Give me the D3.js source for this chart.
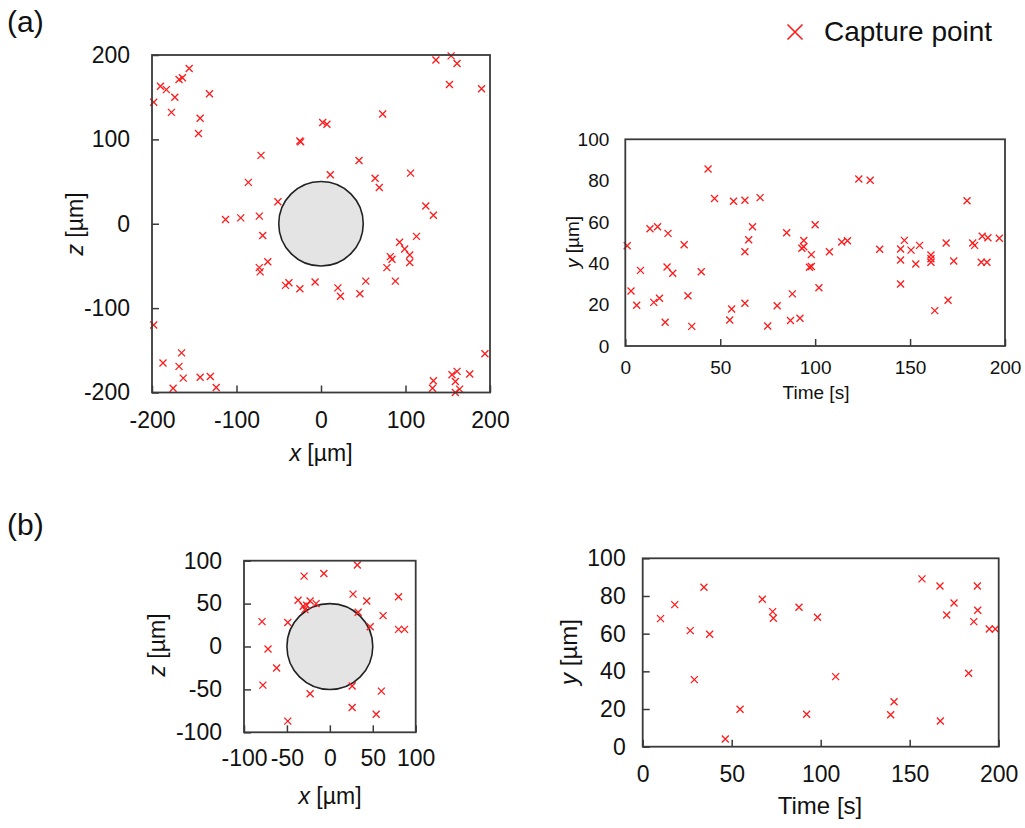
<!DOCTYPE html>
<html>
<head>
<meta charset="utf-8">
<script src="https://cdn.jsdelivr.net/npm/d3@7"></script>
<style>
  html, body { margin: 0; padding: 0; background: #fff; }
  svg { display: block; font-family: "Liberation Sans", Arial, sans-serif; }
</style>
</head>
<body>
<svg id="chart" width="1025" height="828"></svg>
<script>
// ---- Data: capture positions (x, z) in µm and capture times (t, y) ----
const captureA_xz = [
  [-156,184],[-190,163],[-183,159],[-168,171],[-164,173],[-173,150],[-198,144],[-132,154],
  [-177,132],[-143,125],[-145,107],[-25,98],[-24,97],[-71,81],[-86,49],[-51,26],[-113,5],
  [-95,7],[-73,9],[136,194],[154,199],[161,190],[152,165],[190,160],[73,130],[2,120],[7,118],
  [45,75],[11,58],[64,54],[69,43],[106,60],[124,21],[133,10],[-69,-14],[-63,-45],[-73,-52],
  [-72,-57],[-42,-73],[-38,-70],[-25,-77],[-7,-69],[-198,-120],[-165,-153],[-187,-165],
  [-168,-169],[-163,-183],[-143,-182],[-131,-181],[-175,-195],[-124,-194],[113,-15],[93,-22],
  [99,-30],[82,-39],[84,-42],[105,-37],[105,-46],[78,-52],[88,-68],[53,-68],[20,-76],[23,-86],
  [46,-83],[194,-154],[155,-179],[161,-175],[176,-178],[159,-187],[133,-186],[132,-195],
  [164,-196],[159,-200]
];
const captureA_ty = [
  [1,48.5],[3,26.6],[6,19.7],[8,36.6],[13,56.7],[17,57.7],[15,21.1],[18,23.1],[22.5,54.5],
  [22,38.2],[25,35.2],[21,11.5],[31,49],[33,24.3],[35,9.5],[40,35.9],[43.6,85.6],[47,71.4],
  [57,70],[63,70.5],[71,71.8],[67,57.7],[65,51.4],[63,45.6],[55,12.6],[56,17.9],[63,20.7],
  [75,9.7],[80,19.5],[85,54.8],[88,25.2],[87,12.3],[92,13.4],[94,51],[93,47.3],[94,48],
  [98,44.2],[97,38.1],[98,38.5],[100,58.7],[102,28.2],[107.5,45.6],[114,50.3],[117,50.9],
  [123,80.8],[129,80.2],[134,46.8],[145,30],[145,41.6],[145,46.9],[147,51.1],[150.5,46.4],
  [153,39.7],[155,48.7],[161,44],[161,42.2],[161,40.5],[163,17.1],[169,49.8],[170,22.1],
  [173,41.1],[180,70.3],[183,49.8],[184,48.7],[188,53.1],[191,52.4],[187.5,40.5],[190.5,40.5],
  [197,52.1]
];
const captureB_xz = [
  [32,95],[-30,82],[-7,85],[27,61],[43,53],[80,58],[-37,54],[-23,53],[-16,50],[-31,47],
  [-29,43],[-27,48],[33,40],[62,36],[-79,29],[-49,28],[47,23],[80,20],[87,20],[-72,-3],
  [-62,-25],[-78,-45],[-23,-55],[26,-46],[60,-52],[26,-71],[54,-79],[-49,-87]
];
const captureB_ty = [
  [10,68],[18,75.4],[34.4,84.6],[26.7,61.6],[37.6,59.7],[29,35.6],[46.4,4.1],[54.7,19.9],
  [67.2,78.3],[73,71.7],[73.4,68.2],[87.8,74],[92.1,17.2],[98.2,68.7],[108.4,37.2],
  [141.2,23.9],[139.3,17],[156.9,89.1],[167,85.3],[188,85.3],[174.9,76.3],[170.8,69.9],
  [188.2,72.4],[186,66.4],[194.7,62.5],[198.1,62.5],[183.1,39],[167.2,13.6]
];

// Particle (sphere cross-section) radius, µm
const sphereRadius = 50;

// Tick values
const ticksA_pos = [-200, -100, 0, 100, 200];
const ticksB_pos = [-100, -50, 0, 50, 100];
const ticksTime = [0, 50, 100, 150, 200];
const ticksY = [0, 20, 40, 60, 80, 100];

const legendLabel = "Capture point";

// ---- Drawing ----
const svg = d3.select("#chart");
const AXIS = "#3a3a3a";
const RED = "#ff1a1a";

function cross(g, x, y, h, w) {
  g.append("path")
    .attr("d", `M${x - h},${y - h}L${x + h},${y + h}M${x - h},${y + h}L${x + h},${y - h}`)
    .attr("stroke", RED).attr("stroke-width", w).attr("fill", "none");
}

function panel(cfg) {
  const g = svg.append("g");
  const xs = d3.scaleLinear().domain(cfg.xDomain).range(cfg.xRange);
  const ys = d3.scaleLinear().domain(cfg.yDomain).range(cfg.yRange);

  if (cfg.sphere) {
    g.append("circle")
      .attr("cx", xs(0)).attr("cy", ys(0))
      .attr("r", xs(sphereRadius) - xs(0))
      .attr("fill", "#e4e4e4").attr("stroke", "#222").attr("stroke-width", 1.6);
  }

  const pts = g.append("g");
  cfg.data.forEach(d => cross(pts, xs(d[0]), ys(d[1]), 3.5, 1.3));

  const fmt = d => String(d);
  const xAxis = d3.axisBottom(xs).tickValues(cfg.xTicks).tickFormat(fmt)
    .tickSizeInner(-7).tickSizeOuter(0).tickPadding(cfg.xPad);
  const yAxis = d3.axisLeft(ys).tickValues(cfg.yTicks).tickFormat(fmt)
    .tickSizeInner(cfg.yTickLen === 0 ? 0 : -7).tickSizeOuter(0).tickPadding(cfg.yPad);

  const gx = g.append("g").attr("transform", `translate(0,${cfg.yRange[0]})`).call(xAxis);
  const gy = g.append("g").attr("transform", `translate(${cfg.xRange[0]},0)`).call(yAxis);
  [gx, gy].forEach(a => {
    a.select(".domain").remove();
    a.selectAll(".tick line").attr("stroke", AXIS).attr("stroke-width", 1.5);
    a.selectAll(".tick text").attr("fill", "#111")
      .style("font-size", cfg.fontSize + "px").style("font-family", "Liberation Sans, Arial, sans-serif");
  });

  g.append("rect")
    .attr("x", cfg.xRange[0]).attr("y", cfg.yRange[1])
    .attr("width", cfg.xRange[1] - cfg.xRange[0]).attr("height", cfg.yRange[0] - cfg.yRange[1])
    .attr("fill", "none").attr("stroke", AXIS).attr("stroke-width", 1.8);

  // axis titles
  const xt = g.append("text").attr("x", cfg.xTitle.x).attr("y", cfg.xTitle.y)
    .attr("text-anchor", "middle").attr("fill", "#111").style("font-size", cfg.titleSize + "px");
  xt.append("tspan").attr("font-style", cfg.xTitle.italic ? "italic" : "normal").text(cfg.xTitle.sym);
  xt.append("tspan").text(cfg.xTitle.rest);

  const yt = g.append("text")
    .attr("transform", `translate(${cfg.yTitle.x},${cfg.yTitle.y}) rotate(-90)`)
    .attr("text-anchor", "middle").attr("fill", "#111").style("font-size", cfg.titleSize + "px");
  yt.append("tspan").attr("font-style", "italic").text(cfg.yTitle.sym);
  yt.append("tspan").text(cfg.yTitle.rest);
}

// (a) left: x–z plane
panel({
  data: captureA_xz, sphere: true,
  xDomain: [-200, 200], xRange: [152, 490],
  yDomain: [-200, 200], yRange: [392.5, 55],
  xTicks: ticksA_pos, yTicks: ticksA_pos,
  xPad: 19, yPad: 22, fontSize: 23, titleSize: 23,
  xTitle: { x: 321, y: 461, sym: "x", rest: " [µm]", italic: true },
  yTitle: { x: 83, y: 224, sym: "z", rest: " [µm]" }
});

// (a) right: y vs time
panel({
  data: captureA_ty, sphere: false,
  xDomain: [0, 200], xRange: [625.3, 1005],
  yDomain: [0, 100], yRange: [346, 139.3],
  xTicks: ticksTime, yTicks: ticksY, yTickLen: 0,
  xPad: 15, yPad: 16, fontSize: 19, titleSize: 19,
  xTitle: { x: 816, y: 399, sym: "", rest: "Time [s]", italic: false },
  yTitle: { x: 579, y: 242, sym: "y", rest: " [µm]" }
});

// (b) left: x–z plane
panel({
  data: captureB_xz, sphere: true,
  xDomain: [-100, 100], xRange: [244, 415.7],
  yDomain: [-100, 100], yRange: [732.3, 560.7],
  xTicks: ticksB_pos, yTicks: ticksB_pos,
  xPad: 17, yPad: 22, fontSize: 23, titleSize: 23,
  xTitle: { x: 330, y: 804, sym: "x", rest: " [µm]", italic: true },
  yTitle: { x: 165, y: 645, sym: "z", rest: " [µm]" }
});

// (b) right: y vs time
panel({
  data: captureB_ty, sphere: false,
  xDomain: [0, 200], xRange: [642.7, 998.7],
  yDomain: [0, 100], yRange: [746.7, 558.3],
  xTicks: ticksTime, yTicks: ticksY,
  xPad: 19, yPad: 17, fontSize: 23, titleSize: 24,
  xTitle: { x: 820, y: 814, sym: "", rest: "Time [s]", italic: false },
  yTitle: { x: 577, y: 652, sym: "y", rest: " [µm]" }
});

// Panel labels
svg.append("text").attr("x", 7).attr("y", 32).style("font-size", "30px").attr("fill", "#111").text("(a)");
svg.append("text").attr("x", 7).attr("y", 535).style("font-size", "30px").attr("fill", "#111").text("(b)");

// Legend
const lg = svg.append("g");
cross(lg, 795, 32, 7.5, 1.6);
lg.append("text").attr("x", 824).attr("y", 41).style("font-size", "28px").attr("fill", "#111").text(legendLabel);
</script>
</body>
</html>
